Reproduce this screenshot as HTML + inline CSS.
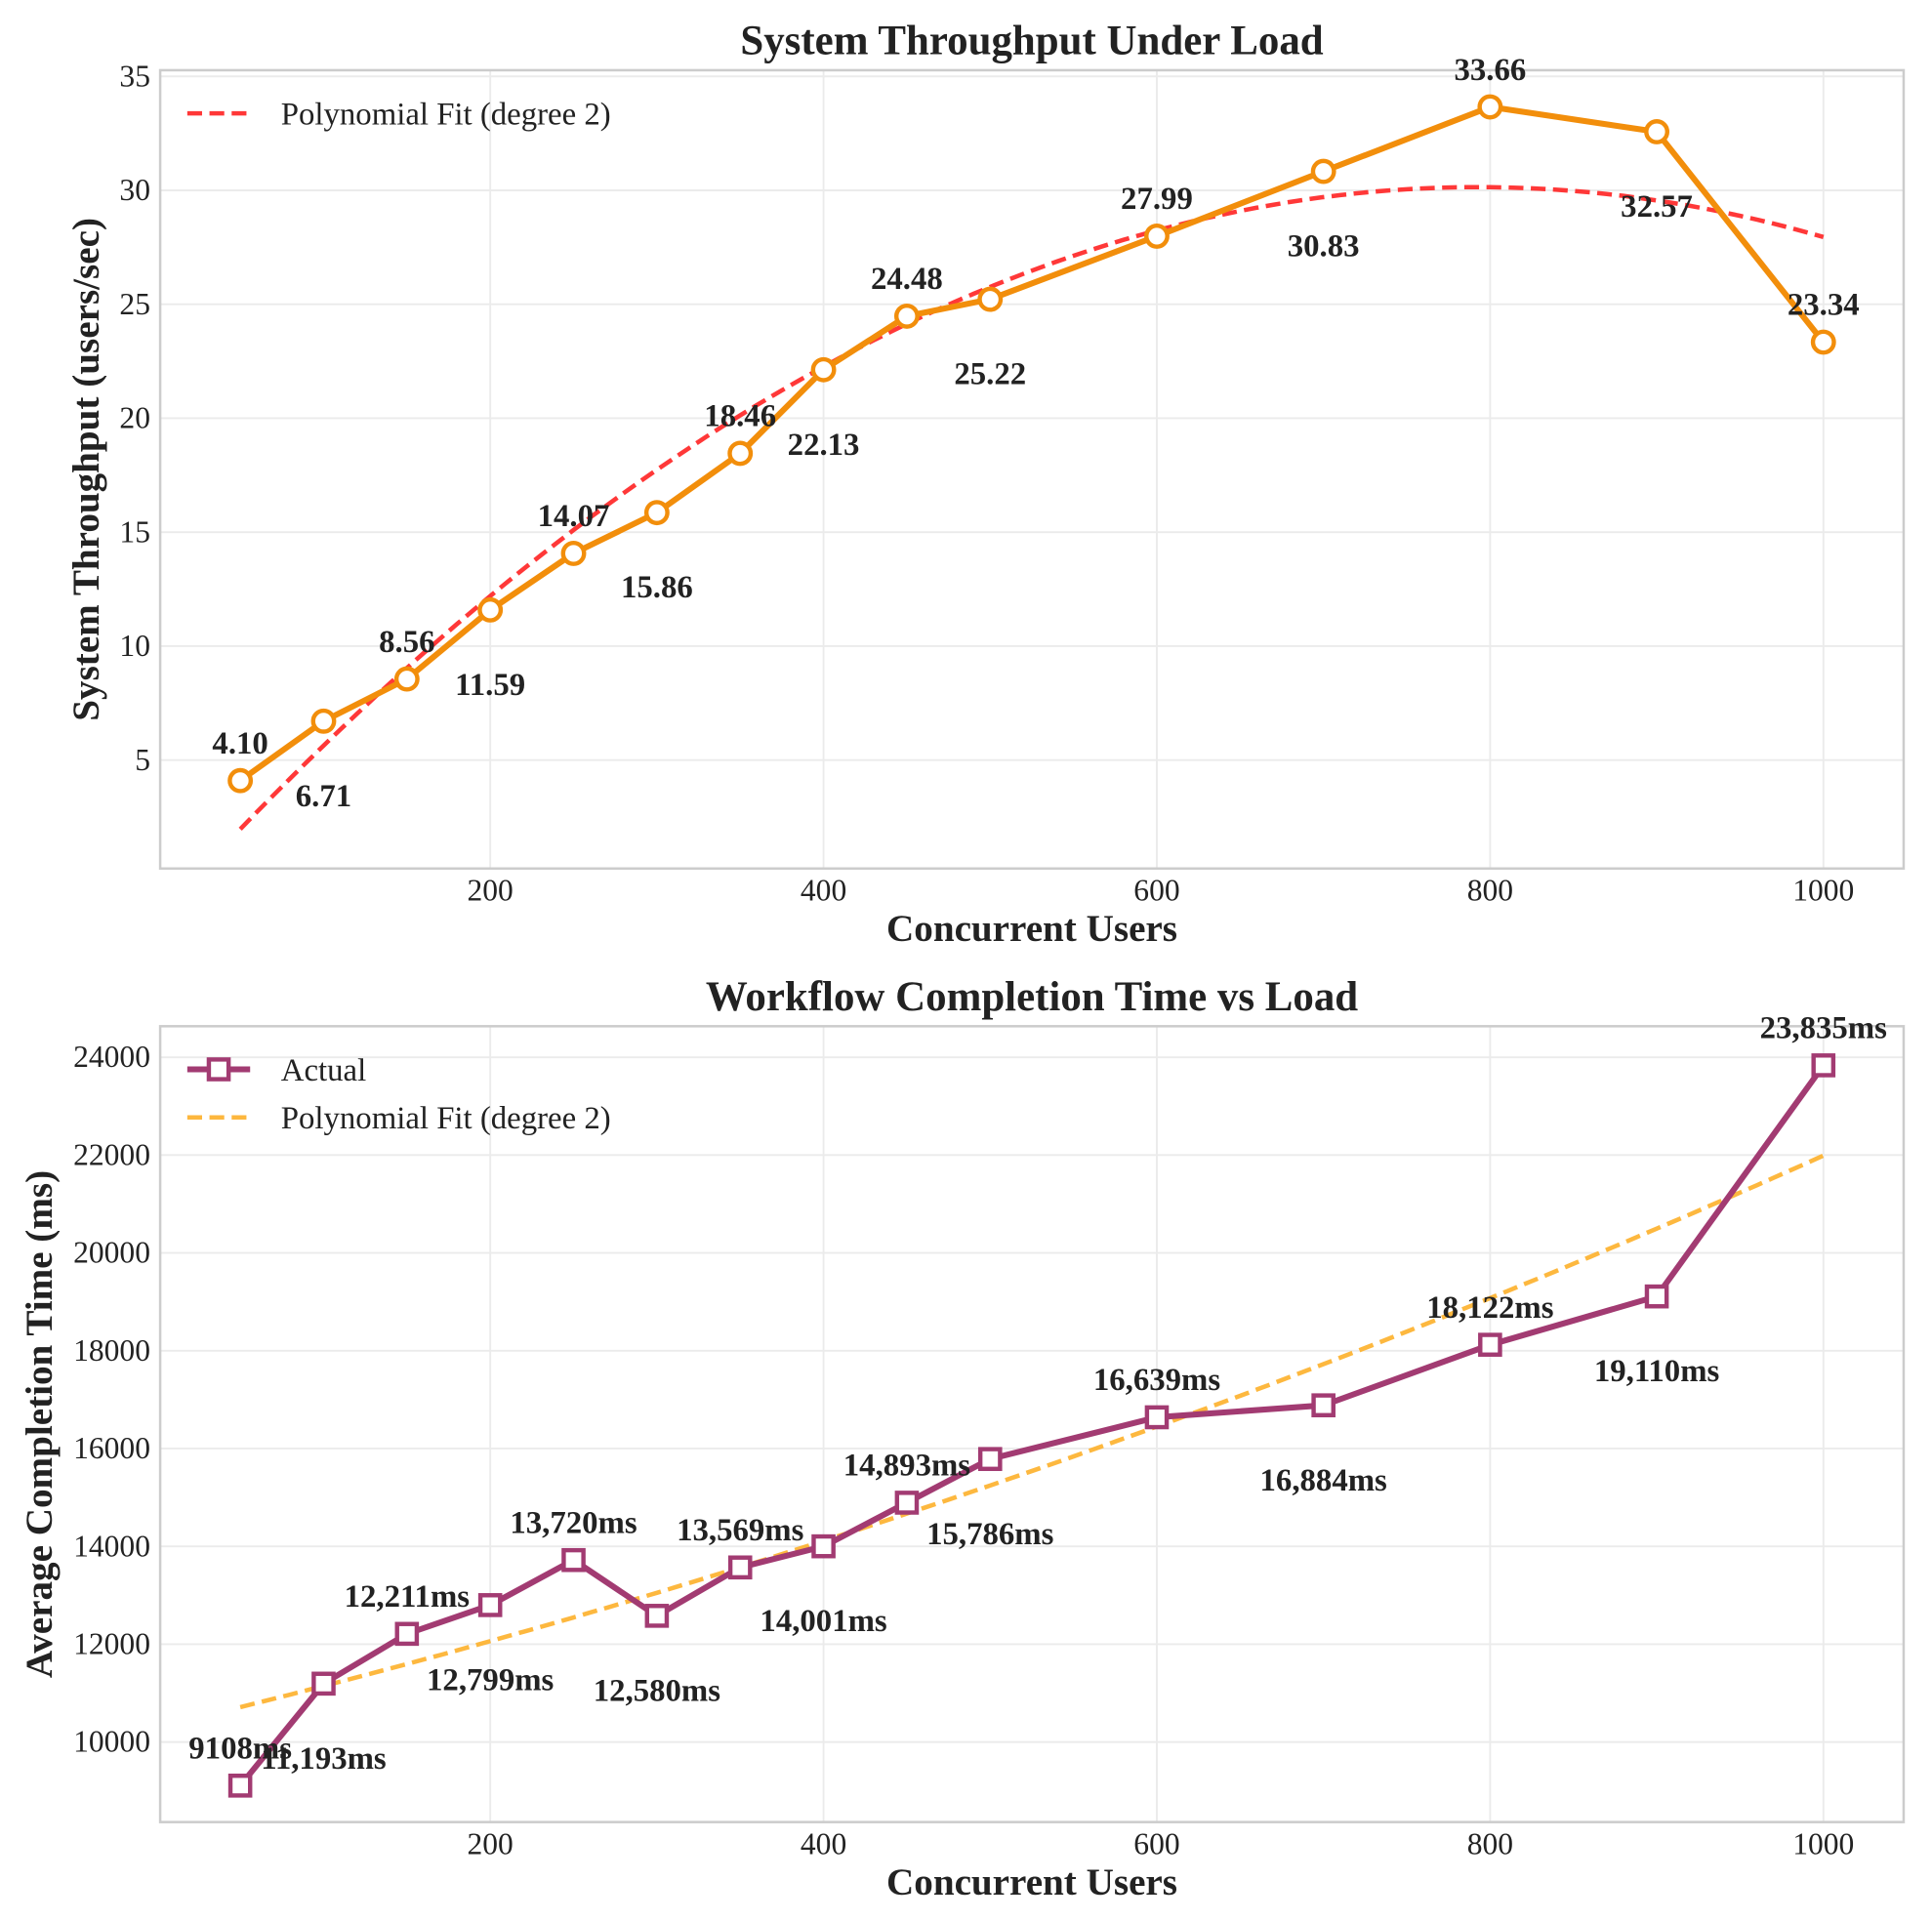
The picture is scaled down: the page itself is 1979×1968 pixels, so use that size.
<!DOCTYPE html>
<html><head><meta charset="utf-8"><style>
html,body{margin:0;padding:0;background:#fff;}
svg{display:block;font-family:"Liberation Serif","DejaVu Serif",serif;}
</style></head><body>
<svg id="chart" width="1979" height="1968" viewBox="0 0 1568 1559.3" xmlns="http://www.w3.org/2000/svg"></svg>
<script>
const users = [50,100,150,200,250,300,350,400,450,500,600,700,800,900,1000];
const throughput = [4.10,6.71,8.56,11.59,14.07,15.86,18.46,22.13,24.48,25.22,27.99,30.83,33.66,32.57,23.34];
const completion = [9108,11193,12211,12799,13720,12580,13569,14001,14893,15786,16639,16884,18122,19110,23835];
const xTicks = [200,400,600,800,1000];
const yTicksTop = [5,10,15,20,25,30,35];
const yTicksBot = [10000,12000,14000,16000,18000,20000,22000,24000];
const throughputLabels = ["4.10","6.71","8.56","11.59","14.07","15.86","18.46","22.13","24.48","25.22","27.99","30.83","33.66","32.57","23.34"];
const completionLabels = ["9108ms","11,193ms","12,211ms","12,799ms","13,720ms","12,580ms","13,569ms","14,001ms","14,893ms","15,786ms","16,639ms","16,884ms","18,122ms","19,110ms","23,835ms"];

const NS="http://www.w3.org/2000/svg";
const svg=document.getElementById('chart');
function mk(tag,attrs,parent){const e=document.createElementNS(NS,tag);for(const k in attrs)e.setAttribute(k,attrs[k]);(parent||svg).appendChild(e);return e;}
function txt(s,attrs,parent){const e=mk('text',attrs,parent);e.textContent=s;return e;}

function polyfit2(xs,ys){
  let S=[0,0,0,0,0],T=[0,0,0];
  for(let i=0;i<xs.length;i++){let p=1;for(let k=0;k<5;k++){S[k]+=p;if(k<3)T[k]+=p*ys[i];p*=xs[i];}}
  const A=[[S[0],S[1],S[2],T[0]],[S[1],S[2],S[3],T[1]],[S[2],S[3],S[4],T[2]]];
  for(let i=0;i<3;i++){for(let j=i+1;j<3;j++){const f=A[j][i]/A[i][i];for(let k=i;k<4;k++)A[j][k]-=f*A[i][k];}}
  const c=[0,0,0];for(let i=2;i>=0;i--){let s=A[i][3];for(let k=i+1;k<3;k++)s-=A[i][k]*c[k];c[i]=s/A[i][i];}
  return x=>c[0]+c[1]*x+c[2]*x*x;
}

function panel(o){
  const g=mk('g',{});
  
  
  const L=130,R=1545,T=o.top,B=o.bottom;
  const xs=v=>195+(v-50)*(270.5/200);
  const ys=v=>o.y0+(v-o.v0)*o.k;
  xTicks.forEach(t=>{const l=mk('line',{x1:xs(t),x2:xs(t),y1:T,y2:B,stroke:'#ebebeb','stroke-width':1.5},g);
    const tl=txt(String(t),{x:xs(t),y:B+26,'text-anchor':'middle','font-size':25,fill:'#222'},g);});
  o.yTicks.forEach(t=>{const l=mk('line',{x1:L,x2:R,y1:ys(t),y2:ys(t),stroke:'#ebebeb','stroke-width':1.5},g);
    const tl=txt(String(t),{x:L-8,y:ys(t)+8,'text-anchor':'end','font-size':25,fill:'#222'},g);});
  const fr=mk('rect',{x:L,y:T,width:R-L,height:B-T,fill:'none',stroke:'#cccccc','stroke-width':2},g);
  
  const f=polyfit2(users,o.data);
  let d='';for(let v=50;v<=1000;v+=10){d+=(v===50?'M':'L')+xs(v).toFixed(1)+','+ys(f(v)).toFixed(1);}
  const fp=mk('path',{d:d,fill:'none',stroke:o.fitColor,'stroke-width':3.6,'stroke-dasharray':'12,6',opacity:0.9},g);
  
  const ad=o.data.map((v,i)=>(i?'L':'M')+xs(users[i]).toFixed(1)+','+ys(v).toFixed(1)).join('');
  const ap=mk('path',{d:ad,fill:'none',stroke:o.color,'stroke-width':4.8,'stroke-linejoin':'round'},g);
  
  o.data.forEach((v,i)=>{
    let m;
    if(o.square){m=mk('rect',{x:xs(users[i])-8,y:ys(v)-8,width:16,height:16,fill:'#fff',stroke:o.color,'stroke-width':3.5},g);}
    else{m=mk('circle',{cx:xs(users[i]),cy:ys(v),r:8.5,fill:'#fff',stroke:o.color,'stroke-width':3.5},g);}
    
    const dy=i%2===0?-22:69;
    const lb=txt(o.labels[i],{x:xs(users[i]),y:ys(v)+dy,'text-anchor':'middle','font-size':26,'font-weight':'bold',fill:'#222'},g);
    
  });
  const ti=txt(o.title,{x:(L+R)/2,y:T-13,'text-anchor':'middle','font-size':34,'font-weight':'bold',fill:'#222'},g);
  
  const xl=txt('Concurrent Users',{x:(L+R)/2,y:B+59,'text-anchor':'middle','font-size':31,'font-weight':'bold',fill:'#222'},g);
  
  const cy=(T+B)/2;
  const yl=txt(o.ylab,{x:o.ylx,y:cy,'text-anchor':'middle','font-size':31,'font-weight':'bold',fill:'#222',transform:`rotate(-90 ${o.ylx} ${cy})`},g);
  
  let ly=T+35;
  if(o.square){
    const lg=mk('g',{},g);
    mk('line',{x1:152,x2:203,y1:ly,y2:ly,stroke:o.color,'stroke-width':4.8},lg);
    mk('rect',{x:169.5,y:ly-8,width:16,height:16,fill:'#fff',stroke:o.color,'stroke-width':3.5},lg);
    txt('Actual',{x:228,y:ly+9,'font-size':26,fill:'#222'},lg);
    ly+=39;
  }
  const lg2=mk('g',{},g);
  mk('line',{x1:152,x2:203,y1:ly,y2:ly,stroke:o.fitColor,'stroke-width':3.6,'stroke-dasharray':'12,6',opacity:0.9},lg2);
  txt('Polynomial Fit (degree 2)',{x:228,y:ly+9,'font-size':26,fill:'#222'},lg2);
}
panel({name:'throughput-panel',top:57,bottom:705,data:throughput,labels:throughputLabels,yTicks:yTicksTop,y0:709.5,v0:0,k:-18.5,color:'#F28E0B',fitColor:'#FF2222',square:false,title:'System Throughput Under Load',ylab:'System Throughput (users/sec)',ylx:80});
panel({name:'completion-panel',top:833,bottom:1479,data:completion,labels:completionLabels,yTicks:yTicksBot,y0:1414,v0:10000,k:-79.4/2000,color:'#A23B72',fitColor:'#FDB02A',square:true,title:'Workflow Completion Time vs Load',ylab:'Average Completion Time (ms)',ylx:42});
</script>
</body></html>
